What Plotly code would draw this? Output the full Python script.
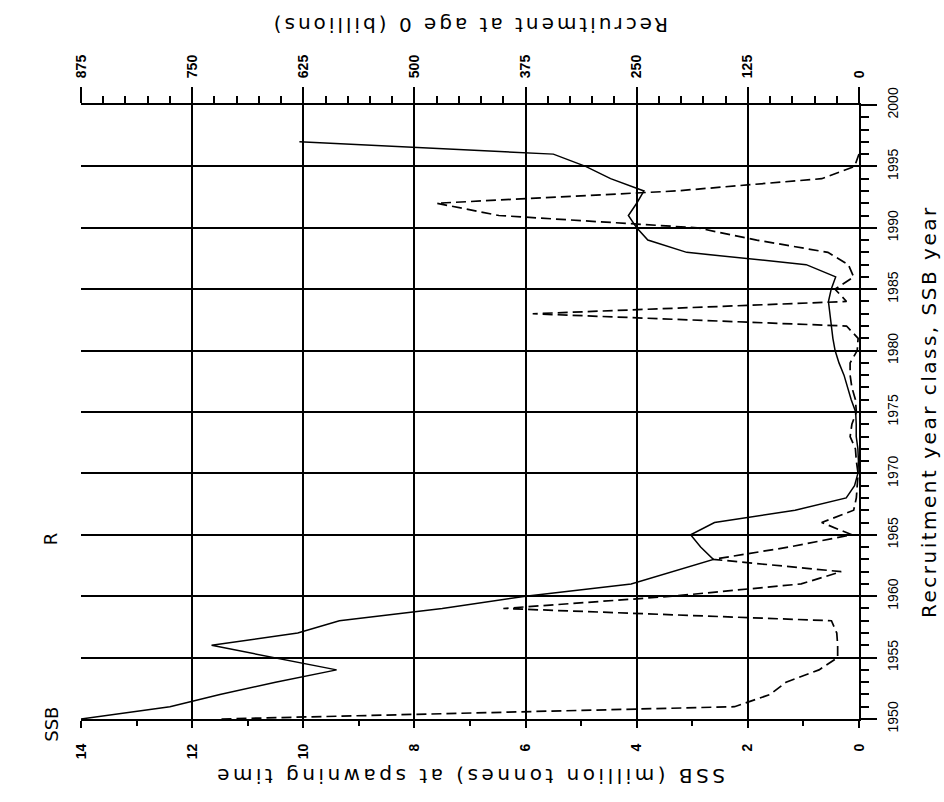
import plotly.graph_objects as go

# ---- data ----
ssb_years = list(range(1950, 1998))
ssb = [14.0, 12.4, 11.5, 10.5, 9.4, 10.5, 11.65, 10.1, 9.35, 7.5,
       6.0, 4.1, 3.35, 2.62, 2.85, 3.03, 2.6, 1.15, 0.23, 0.08,
       0.02, 0.01, 0.02, 0.05, 0.05, 0.06, 0.14, 0.2, 0.27, 0.36,
       0.43, 0.47, 0.5, 0.52, 0.55, 0.5, 0.42, 0.95, 3.1, 3.8,
       4.0, 4.15, 4.0, 3.87, 4.47, 4.92, 5.5, 10.07]

rec_years = list(range(1950, 1997))
recruit = [717, 140, 100, 82, 45, 24, 24, 25, 31, 400,
           210, 65, 20, 164, 79, 8, 42, 6, 3, 2,
           1, 3, 4, 10, 8, 3, 4, 8, 10, 10,
           2, 1, 14, 367, 14, 27, 6, 12, 35, 115,
           182, 405, 475, 206, 42, 5, 0]

ssb_ticks = [0, 2, 4, 6, 8, 10, 12, 14]
rec_ticks = [0, 125, 250, 375, 500, 625, 750, 875]
year_ticks = list(range(1950, 2001, 5))

FONT = "Liberation Sans, Arial, sans-serif"
TFONT = "DejaVu Sans, Liberation Sans, sans-serif"


def spaced(s, px):
    return '<span style="letter-spacing:%spx">%s</span>' % (px, s)


fig = go.Figure()
fig.add_trace(go.Scatter(x=ssb, y=ssb_years, mode="lines", name="SSB",
                         line=dict(color="black", width=1.5),
                         xaxis="x", yaxis="y"))
fig.add_trace(go.Scatter(x=recruit, y=rec_years, mode="lines", name="R",
                         line=dict(color="black", width=1.7, dash="10px,5px"),
                         xaxis="x2", yaxis="y"))

tickfont = dict(size=14, family=FONT, color="black", weight="bold")

fig.update_layout(
    width=944, height=802,
    margin=dict(l=81, r=85, t=105, b=83),
    paper_bgcolor="white", plot_bgcolor="white",
    showlegend=False,
    font=dict(family=FONT, color="black", size=13),
    xaxis=dict(range=[14, 0], tickvals=ssb_ticks, ticktext=[str(v) for v in ssb_ticks],
               tickangle=-90, ticks="outside", ticklen=7, tickwidth=1.5, tickcolor="black",
               ticklabelstandoff=10,
               showgrid=True, gridcolor="black", gridwidth=2,
               showline=True, linecolor="black", linewidth=2, zeroline=False,
               minor=dict(dtick=1, ticks="outside", ticklen=5, tickwidth=1.5,
                          tickcolor="black", showgrid=False),
               tickfont=tickfont),
    xaxis2=dict(range=[875, 0], overlaying="x", side="top", tickvals=rec_ticks,
                ticktext=[str(v) for v in rec_ticks],
                tickangle=-90, ticks="outside", ticklen=16, tickwidth=1.5, tickcolor="black",
                ticklabelstandoff=6,
                showgrid=False, showline=True, linecolor="black", linewidth=2, zeroline=False,
                minor=dict(dtick=25, tick0=0, ticks="outside", ticklen=7, tickwidth=1.5,
                           tickcolor="black", showgrid=False),
                tickfont=tickfont),
    yaxis=dict(range=[1950, 2000], side="right", tickvals=year_ticks,
               ticktext=[str(v) for v in year_ticks],
               tickangle=-90, ticks="outside", ticklen=16, tickwidth=2, tickcolor="black",
               ticklabelstandoff=4,
               showgrid=True, gridcolor="black", gridwidth=2,
               showline=True, linecolor="black", linewidth=2, zeroline=False,
               minor=dict(dtick=1, ticks="outside", ticklen=8, tickwidth=1.5,
                          tickcolor="black", showgrid=False),
               tickfont=dict(size=14, family=FONT, color="black")),
)

fig.add_annotation(text=spaced("SSB (million tonnes) at spawning time", 3.5),
                   xref="paper", yref="paper",
                   x=0.5, y=-0.094, yanchor="middle", showarrow=False, textangle=180,
                   font=dict(size=20, family=TFONT))
fig.add_annotation(text=spaced("Recruitment at age 0 (billions)", 3),
                   xref="paper", yref="paper",
                   x=0.5, y=1.13, yanchor="middle", showarrow=False, textangle=180,
                   font=dict(size=20, family=TFONT))
fig.add_annotation(text=spaced("Recruitment year class, SSB year", 2.5),
                   xref="paper", yref="paper",
                   x=1.09, y=0.5, xanchor="center", yanchor="middle", showarrow=False, textangle=-90,
                   font=dict(size=20, family=TFONT))
fig.add_annotation(text="SSB", xref="paper", yref="paper",
                   x=-0.055, y=-0.04, showarrow=False, textangle=-90,
                   font=dict(size=18, family=TFONT))
fig.add_annotation(text="R", xref="paper", yref="paper",
                   x=-0.055, y=0.28, showarrow=False, textangle=-90,
                   font=dict(size=18, family=TFONT))

fig.write_html("out.html")
